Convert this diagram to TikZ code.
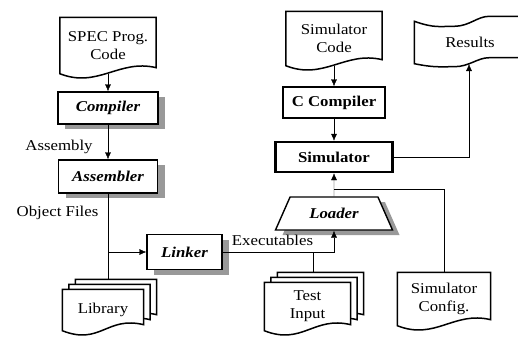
\documentclass[tikz,border=0pt]{standalone}
\usepackage{fontspec}
\setmainfont{Liberation Serif}[FakeStretch=1.12]
\usetikzlibrary{arrows.meta,shapes,shadows,backgrounds}

% outline of a document sheet, shifted by (#2,#3)
\newcommand\docpath[3]{([shift={(#2,#3)}]#1.south west) -- ([shift={(#2,#3)}]#1.north west) -- ([shift={(#2,#3)}]#1.north east) -- ([shift={(#2,#3)},yshift=6pt]#1.south east) .. controls +(-37,-9) and +(38,15) .. ([shift={(#2,#3)}]#1.south west) -- cycle}

\begin{document}
\begin{tikzpicture}[x=1pt,y=-1pt,line width=1.4pt,font=\fontsize{15}{18}\selectfont]
	\tikzstyle{arrow}=[draw, -{Latex[length=7pt,width=6pt]}]
	\tikzstyle{box}=[draw, fill=white, minimum height=32pt, font=\fontsize{15}{18}\selectfont\bfseries\itshape, drop shadow={shadow xshift=7pt, shadow yshift=-5pt, fill=black!40, opacity=1}]
	\tikzstyle{plainbox}=[draw, fill=white, minimum height=31pt, font=\fontsize{15}{18}\selectfont\bfseries]
	\tikzstyle{doc}=[align=center, inner sep=0pt]
	\tikzstyle{sheet}=[draw, fill=white, line width=1.5pt]
	\newcommand\XLeft{108}
	\newcommand\XMid{334}

	\useasboundingbox (0,0) rectangle (518,340);

	% Program side
	\node [doc, minimum width=95pt, minimum height=55pt] at (\XLeft,45.5) (spec) {SPEC Prog.\\Code};
	\node [box, minimum width=100pt] at (\XLeft,108) (compiler) {Compiler};
	\node [box, minimum width=99pt, minimum height=33pt] at (\XLeft,176.5) (assembler) {Assembler};
	\node [box, minimum width=75pt, minimum height=35pt] at (184.5,252) (linker) {Linker};
	\node [doc, minimum width=80pt, minimum height=40pt] at (103,310) (library) {Library};

	% Simulator side
	\node [doc, minimum width=95pt, minimum height=53pt] at (\XMid,38.5) (simcode) {Simulator\\Code};
	\node [plainbox, minimum width=102pt] at (\XMid,102.5) (ccomp) {C Compiler};
	\node [plainbox, minimum width=117pt, minimum height=30pt, line width=2.4pt] at (\XMid,157) (simulator) {Simulator};
	\node [box, trapezium, trapezium left angle=45, trapezium right angle=45, trapezium stretches body, minimum width=117pt, minimum height=33pt, inner ysep=2pt] at (\XMid,213.5) (loader) {Loader};
	\node [doc, minimum width=110pt, minimum height=44pt] at (470,42) (results) {Results};
	\node [doc, minimum width=85pt, minimum height=47pt] at (307.5,306.5) (testinput) {Test\\Input};
	\node [doc, minimum width=92pt, minimum height=52pt] at (444,299) (simconfig) {Simulator\\Config.};

	% Labels
	\node at (59,147) (asmlbl) {Assembly};
	\node at (57.5,213) (objlbl) {Object Files};
	\node at (272.5,240) (exelbl) {Executables};

	% Sheets
	\begin{pgfonlayer}{background}
		\path [sheet] \docpath{spec}{0}{0};
		\path [sheet] \docpath{simcode}{0}{0};
		\path [sheet] \docpath{simconfig}{0}{0};
		\path [sheet] \docpath{library}{13}{-10};
		\path [sheet] \docpath{library}{6.5}{-5};
		\path [sheet] \docpath{library}{0}{0};
		\path [sheet] \docpath{testinput}{13}{-10};
		\path [sheet] \docpath{testinput}{6.5}{-5};
		\path [sheet] \docpath{testinput}{0}{0};
		\path [sheet] ([shift={(0,2)}]results.north west) .. controls +(20,7) and +(-15,0) .. ([shift={(40,7)}]results.north west) .. controls +(15,0) and +(-12,0) .. ([shift={(75,-3)}]results.north west) -- ([shift={(0,-3)}]results.north east) -- ([shift={(0,-7)}]results.south east) -- ([shift={(75,-7)}]results.south west) .. controls +(-12,0) and +(15,0) .. ([shift={(40,2)}]results.south west) .. controls +(-15,0) and +(20,4) .. ([shift={(0,-1)}]results.south west) -- cycle;
	\end{pgfonlayer}

	% Path Arrows
	\path [arrow] (spec.south) -- (compiler.north);
	\path [arrow] (compiler.south) -- (assembler.north);
	\coordinate (libtop) at ([shift={(13,-10)}]library.north);
	\path [draw] (assembler.south) -- (assembler.south |- libtop);
	\path [arrow] (assembler.south |- linker.west) -- (linker.west);
	\path [arrow] (linker.east) -| (loader.south);
	\coordinate (tiin) at ([shift={(5.5,-10)}]testinput.north);
	\path [draw] (tiin) -- (tiin |- linker.east);

	\path [arrow] (simcode.south) -- (ccomp.north);
	\path [arrow] (ccomp.south) -- (simulator.north);
	\path [arrow] (loader.north) -- (simulator.south);
	\coordinate (cfgjoin) at (\XMid,189);
	\path [draw] (simconfig.north) |- (cfgjoin);
	\coordinate (resin) at (469,64);
	\path [arrow] (simulator.east) -| (resin);
\end{tikzpicture}
\end{document}
